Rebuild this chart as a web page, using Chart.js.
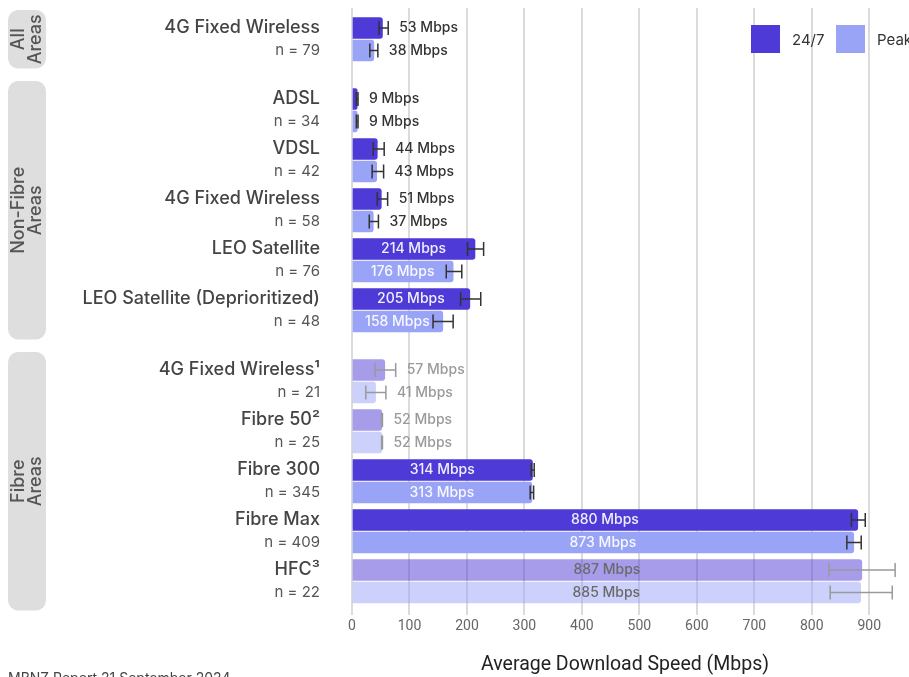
<!DOCTYPE html>
<html>
<head>
<meta charset="utf-8">
<script src="https://cdn.jsdelivr.net/npm/chart.js@4.4.1/dist/chart.umd.min.js"></script>
<style>
  html, body { margin: 0; padding: 0; background: #ffffff; }
  #wrap { width: 909px; height: 677px; position: relative; }
</style>
</head>
<body>
<div id="wrap"><canvas id="speedChart" width="909" height="677"></canvas></div>
<script>
// Technology rows, top to bottom
const categories = ['4G Fixed Wireless', 'ADSL', 'VDSL', '4G Fixed Wireless', 'LEO Satellite',
  'LEO Satellite (Deprioritized)', '4G Fixed Wireless\u00b9', 'Fibre 50\u00b2', 'Fibre 300', 'Fibre Max', 'HFC\u00b3'];
const sampleSizes = [79, 34, 42, 58, 76, 48, 21, 25, 345, 409, 22];
const areaGroups = [['All', 'Areas'], ['Non-Fibre', 'Areas'], ['Fibre', 'Areas']];
const groupOfRow = [0, 1, 1, 1, 1, 1, 2, 2, 2, 2, 2];
// rows with a small sample are drawn muted
const mutedRows = [false, false, false, false, false, false, true, true, false, false, true];

// Average download speed (Mbps)
const speed247 = [53, 9, 44, 51, 214, 205, 57, 52, 314, 880, 887];
const speedPeak = [38, 9, 43, 37, 176, 158, 41, 52, 313, 873, 885];
// Confidence interval ends (Mbps)
const low247 = [47, 7.5, 37, 44, 201, 189, 40, 51.5, 312, 869, 830];
const high247 = [63, 10.5, 56, 62, 229, 224, 76, 53, 317, 893, 945];
const lowPeak = [31, 7.5, 35, 30, 164, 141, 24, 51.5, 310, 861, 832];
const highPeak = [45, 10.5, 55, 46, 191, 176, 59, 53, 316, 886, 940];

const xTicks = [0, 100, 200, 300, 400, 500, 600, 700, 800, 900];
const seriesNames = ['24/7', 'Peak'];
const footerText = 'MBNZ Report 21 September 2024';

// Layout of rows on the vertical scale
const groupGap = 0.42;
const pairOffset = 0.45;
const rowPos = categories.map((_, i) => i + groupOfRow[i] * groupGap);

const color247 = '#4e3ad6';
const colorPeak = '#9aa4f7';
const fade = (hex) => hex + '80';

const FONT = "Inter, 'Noto Sans', sans-serif";
const NARROW = "Roboto, 'Liberation Sans', sans-serif";

const seriesInfo = [
  { values: speed247, low: low247, high: high247 },
  { values: speedPeak, low: lowPeak, high: highPeak }
];

// Rounded grey area panels with rotated captions
const areaPanels = {
  id: 'areaPanels',
  beforeDraw(chart) {
    const { ctx, scales: { y } } = chart;
    ctx.save();
    areaGroups.forEach((lines, g) => {
      const rows = rowPos.filter((_, i) => groupOfRow[i] === g);
      const top = y.getPixelForValue(rows[0]) - 18;
      const bottom = y.getPixelForValue(rows[rows.length - 1] + pairOffset) + 18;
      const left = 8, width = 38;
      ctx.fillStyle = '#dedede';
      ctx.beginPath();
      ctx.roundRect(left, top, width, bottom - top, 10);
      ctx.fill();
      ctx.save();
      ctx.translate(left + width / 2, (top + bottom) / 2);
      ctx.rotate(-Math.PI / 2);
      ctx.fillStyle = '#555555';
      ctx.font = '500 18px ' + FONT;
      ctx.textAlign = 'center';
      ctx.textBaseline = 'middle';
      ctx.fillText(lines[0], 0, -8.5);
      ctx.fillText(lines[1], 0, 8.5);
      ctx.restore();
    });
    ctx.restore();
  }
};

// Error bars and value labels
const barAnnotations = {
  id: 'barAnnotations',
  afterDatasetsDraw(chart) {
    const { ctx, scales: { x } } = chart;
    ctx.save();
    seriesInfo.forEach((s, d) => {
      const meta = chart.getDatasetMeta(d);
      meta.data.forEach((bar, i) => {
        const muted = mutedRows[i];
        const yc = bar.y;
        const xl = x.getPixelForValue(s.low[i]);
        const xh = x.getPixelForValue(s.high[i]);
        ctx.strokeStyle = muted ? '#9a9a9a' : '#333333';
        ctx.lineWidth = 1.5;
        ctx.beginPath();
        ctx.moveTo(xl, yc); ctx.lineTo(xh, yc);
        ctx.moveTo(xl, yc - 7); ctx.lineTo(xl, yc + 7);
        ctx.moveTo(xh, yc - 7); ctx.lineTo(xh, yc + 7);
        ctx.stroke();

        const text = s.values[i] + ' Mbps';
        ctx.font = '500 14px ' + FONT;
        ctx.textBaseline = 'middle';
        if (s.values[i] >= 100) {
          ctx.textAlign = 'center';
          ctx.fillStyle = muted ? '#6a6a6a' : 'rgba(255,255,255,0.92)';
          ctx.fillText(text, (x.getPixelForValue(0) + bar.x) / 2, yc);
        } else {
          ctx.textAlign = 'left';
          ctx.fillStyle = muted ? '#9a9a9a' : '#333333';
          ctx.fillText(text, xh + 11, yc);
        }
      });
    });
    ctx.restore();
  }
};

// Legend squares in the top-right corner, and the source note
const legendAndNote = {
  id: 'legendAndNote',
  afterDraw(chart) {
    const { ctx, chartArea } = chart;
    ctx.save();
    const boxX = [chartArea.right - 147, chartArea.right - 62];
    chart.data.datasets.forEach((ds, d) => {
      ctx.fillStyle = d === 0 ? color247 : colorPeak;
      ctx.fillRect(boxX[d], 25, 29, 28);
      ctx.fillStyle = '#333333';
      ctx.font = '15px ' + FONT;
      ctx.textAlign = 'left';
      ctx.textBaseline = 'middle';
      ctx.fillText(ds.label, boxX[d] + 41, 40);
    });
    ctx.fillStyle = '#444444';
    ctx.font = '14px ' + FONT;
    ctx.textBaseline = 'alphabetic';
    ctx.fillText(footerText, 8, 683);
    ctx.restore();
  }
};

const ctx = document.getElementById('speedChart').getContext('2d');
new Chart(ctx, {
  type: 'bar',
  data: {
    datasets: [
      {
        label: seriesNames[0],
        data: speed247.map((v, i) => ({ x: v, y: rowPos[i] })),
        backgroundColor: (c) => mutedRows[c.dataIndex] ? fade(color247) : color247
      },
      {
        label: seriesNames[1],
        data: speedPeak.map((v, i) => ({ x: v, y: rowPos[i] + pairOffset })),
        backgroundColor: (c) => mutedRows[c.dataIndex] ? fade(colorPeak) : colorPeak
      }
    ]
  },
  options: {
    indexAxis: 'y',
    responsive: false,
    animation: false,
    layout: { padding: { top: 8, right: 11, left: 0, bottom: 0 } },
    datasets: {
      bar: { grouped: false, barThickness: 21, borderRadius: 3, borderSkipped: 'start' }
    },
    scales: {
      x: {
        type: 'linear',
        min: 0,
        max: 950,
        z: 1,
        offset: false,
        afterBuildTicks: (scale) => { scale.ticks = xTicks.map(v => ({ value: v })); },
        afterFit: (scale) => { scale.height = 69; scale.paddingLeft = 0; scale.paddingRight = 0; },
        grid: { color: 'rgba(0,0,0,0.14)', lineWidth: 2, tickLength: 7, drawTicks: true, offset: false },
        border: { display: false },
        ticks: { color: '#666666', font: { family: NARROW, size: 14 }, padding: 3, maxRotation: 0 },
        title: {
          display: true,
          text: 'Average Download Speed (Mbps)',
          color: '#222222',
          font: { family: NARROW, size: 19.5 },
          padding: { top: 0, bottom: 0 }
        }
      },
      y: {
        type: 'linear',
        reverse: true,
        min: -0.4,
        max: 11.6,
        offset: false,
        afterBuildTicks: (scale) => {
          const pos = [];
          rowPos.forEach(p => { pos.push(p); pos.push(p + pairOffset); });
          scale.ticks = pos.map(v => ({ value: v }));
        },
        afterFit: (scale) => { scale.width = 352; scale.paddingTop = 0; scale.paddingBottom = 0; },
        grid: { display: false, drawTicks: true, tickLength: 32, offset: false },
        border: { display: false },
        ticks: {
          autoSkip: false,
          padding: 0,
          callback: (value, index) => index % 2 === 0
            ? categories[index / 2]
            : 'n = ' + sampleSizes[(index - 1) / 2],
          color: (c) => c.index % 2 === 0 ? '#444444' : '#555555',
          font: (c) => c.index % 2 === 0
            ? { family: FONT, size: 18, weight: '500' }
            : { family: FONT, size: 15, weight: '400' }
        }
      }
    },
    plugins: { legend: { display: false }, tooltip: { enabled: false } }
  },
  plugins: [areaPanels, barAnnotations, legendAndNote]
});
</script>
</body>
</html>
